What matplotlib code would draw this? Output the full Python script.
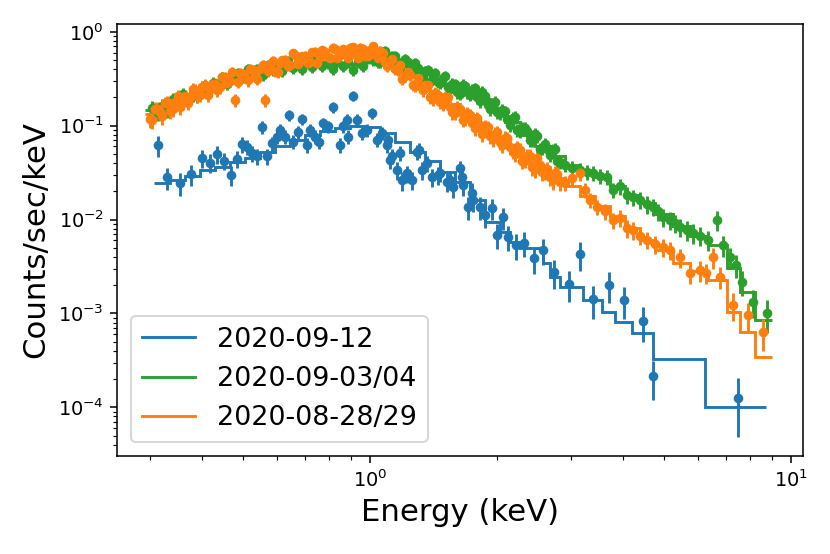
import numpy as np
import matplotlib
matplotlib.use("Agg")
import matplotlib.pyplot as plt

# --- 2020-09-12 (blue) ---
blue_energy = [0.314, 0.330, 0.354, 0.376, 0.399, 0.417, 0.432, 0.449, 0.467, 0.482,
               0.496, 0.510, 0.524, 0.538, 0.553, 0.569, 0.584, 0.600, 0.611, 0.628,
               0.643, 0.657, 0.676, 0.691, 0.707, 0.720, 0.740, 0.758, 0.774, 0.796,
               0.818, 0.849, 0.864, 0.882, 0.888, 0.913, 0.930, 0.956, 0.982, 1.009,
               1.037, 1.066, 1.095, 1.105, 1.116, 1.128, 1.157, 1.178, 1.189, 1.222,
               1.256, 1.291, 1.305, 1.327, 1.363, 1.401, 1.453, 1.467, 1.521, 1.549,
               1.577, 1.636, 1.650, 1.665, 1.712, 1.747, 1.759, 1.826, 1.876, 1.946,
               1.998, 2.065, 2.131, 2.221, 2.323, 2.452, 2.580, 2.735, 2.966, 3.150,
               3.390, 3.700, 4.010, 4.460, 4.700, 7.480]
blue_rate = [0.062, 0.0282, 0.0244, 0.0306, 0.0456, 0.0404, 0.050, 0.0424, 0.030, 0.0445,
             0.0638, 0.0597, 0.0508, 0.047, 0.096, 0.047, 0.065, 0.0763, 0.090, 0.0763,
             0.129, 0.0676, 0.0863, 0.117, 0.062, 0.090, 0.0763, 0.0676, 0.106, 0.098,
             0.157, 0.062, 0.098, 0.115, 0.0763, 0.207, 0.115, 0.083, 0.090, 0.1355,
             0.0705, 0.083, 0.062, 0.0704, 0.0431, 0.0477, 0.0337, 0.0517, 0.0263, 0.031,
             0.0263, 0.0529, 0.0551, 0.0337, 0.0398, 0.0286, 0.0296, 0.0316, 0.0253, 0.0264,
             0.0224, 0.0352, 0.0285, 0.0234, 0.0137, 0.0194, 0.0162, 0.0137, 0.0112, 0.0132,
             0.00686, 0.01057, 0.00657, 0.00537, 0.00568, 0.00387, 0.00474, 0.00279, 0.00206, 0.0043,
             0.00142, 0.00201, 0.00139, 0.00083, 0.000216, 0.000126]
blue_relerr = [0.25, 0.26, 0.27, 0.25, 0.22, 0.22, 0.21, 0.21, 0.24, 0.20,
               0.19, 0.19, 0.19, 0.19, 0.16, 0.19, 0.17, 0.17, 0.16, 0.17,
               0.14, 0.17, 0.16, 0.14, 0.18, 0.16, 0.17, 0.17, 0.15, 0.15,
               0.13, 0.18, 0.15, 0.15, 0.17, 0.12, 0.15, 0.16, 0.16, 0.14,
               0.17, 0.16, 0.18, 0.17, 0.20, 0.19, 0.21, 0.18, 0.23, 0.21,
               0.22, 0.18, 0.18, 0.21, 0.20, 0.22, 0.22, 0.21, 0.23, 0.22,
               0.24, 0.20, 0.22, 0.23, 0.27, 0.25, 0.26, 0.27, 0.28, 0.26,
               0.30, 0.27, 0.30, 0.31, 0.30, 0.32, 0.30, 0.34, 0.36, 0.34,
               0.38, 0.36, 0.38, 0.40, 0.45, 0.62]
blue_model_edges = [0.307, 0.335, 0.364, 0.395, 0.428, 0.465, 0.505, 0.548, 0.595, 0.646,
                    0.701, 0.761, 0.826, 0.897, 0.974, 1.056, 1.147, 1.245, 1.352, 1.467,
                    1.592, 1.728, 1.876, 2.036, 2.151, 2.271, 2.576, 2.677, 2.827, 3.205,
                    3.557, 3.82, 4.19, 4.70, 6.25, 8.72]
blue_model = [0.0245, 0.0264, 0.0291, 0.0337, 0.0363, 0.0412, 0.0453, 0.0525, 0.0608, 0.0704,
              0.0796, 0.0878, 0.0945, 0.0993, 0.0969, 0.0836, 0.0671, 0.0525, 0.0421, 0.0321,
              0.0251, 0.0162, 0.00943, 0.00738, 0.00577, 0.00498, 0.00345, 0.00245, 0.00192, 0.00139,
              0.00104, 0.000812, 0.00062, 0.00033, 0.000101]

# --- 2020-09-03/04 (green) ---
green_energy = [0.304, 0.313, 0.321, 0.330, 0.340, 0.349, 0.359, 0.369, 0.379, 0.389,
                0.400, 0.412, 0.423, 0.434, 0.446, 0.458, 0.471, 0.485, 0.498, 0.512,
                0.526, 0.540, 0.556, 0.571, 0.587, 0.603, 0.619, 0.637, 0.655, 0.673,
                0.691, 0.711, 0.730, 0.750, 0.771, 0.793, 0.815, 0.837, 0.861, 0.885,
                0.909, 0.935, 0.960, 0.987, 1.014, 1.042, 1.071, 1.100, 1.131, 1.163,
                1.194, 1.228, 1.262, 1.298, 1.333, 1.371, 1.408, 1.448, 1.487, 1.529,
                1.570, 1.614, 1.659, 1.704, 1.752, 1.800, 1.850, 1.902, 1.955, 2.008,
                2.064, 2.121, 2.181, 2.240, 2.302, 2.366, 2.432, 2.500, 2.569, 2.640,
                2.714, 2.789,
                2.906, 3.02, 3.153, 3.28, 3.39, 3.518, 3.66, 3.78, 3.925, 4.08,
                4.21, 4.378, 4.55, 4.70, 4.83, 4.97, 5.159, 5.30, 5.449, 5.66,
                5.85, 6.079, 6.35, 6.67, 6.90, 7.161, 7.40, 7.65, 8.12, 8.77]
green_rate = [0.1543, 0.1365, 0.162, 0.147, 0.1925, 0.1745, 0.2176, 0.188, 0.212, 0.207,
              0.258, 0.2285, 0.285, 0.278, 0.330, 0.278, 0.330, 0.364, 0.330, 0.402,
              0.347, 0.402, 0.347, 0.443, 0.392, 0.443, 0.382, 0.489, 0.412, 0.454,
              0.402, 0.489, 0.422, 0.513, 0.432, 0.465, 0.402, 0.489, 0.432, 0.477,
              0.392, 0.477, 0.432, 0.526, 0.501, 0.477, 0.610, 0.501, 0.553, 0.432,
              0.477, 0.477, 0.382, 0.412, 0.330, 0.392, 0.322, 0.292, 0.322, 0.258,
              0.278, 0.2285, 0.271, 0.2285, 0.240, 0.202, 0.2285, 0.166, 0.170, 0.140,
              0.147, 0.1179, 0.1208, 0.090, 0.0945, 0.0878, 0.0704, 0.0777, 0.0579, 0.0565,
              0.0551, 0.0421,
              0.0382, 0.0356, 0.0337, 0.0321, 0.0313, 0.0292, 0.0285, 0.0207, 0.0228, 0.0183,
              0.0174, 0.0162, 0.01466, 0.0137, 0.0122, 0.01066, 0.0099, 0.0092, 0.00834, 0.00775,
              0.0072, 0.00674, 0.00607, 0.0099, 0.00536, 0.00397, 0.00328, 0.00217, 0.001326, 0.00101]
green_relerr = [0.18, 0.17, 0.18, 0.17, 0.17, 0.16, 0.16, 0.16, 0.16, 0.15,
                0.15, 0.15, 0.15, 0.14, 0.14, 0.14, 0.14, 0.14, 0.14, 0.13,
                0.13, 0.13, 0.13, 0.13, 0.13, 0.13, 0.13, 0.13, 0.13, 0.13,
                0.13, 0.13, 0.13, 0.13, 0.13, 0.13, 0.13, 0.13, 0.13, 0.13,
                0.13, 0.13, 0.13, 0.13, 0.13, 0.13, 0.13, 0.13, 0.13, 0.13,
                0.14, 0.14, 0.14, 0.14, 0.14, 0.14, 0.14, 0.14, 0.14, 0.14,
                0.15, 0.15, 0.15, 0.15, 0.15, 0.15, 0.15, 0.15, 0.15, 0.15,
                0.16, 0.16, 0.16, 0.16, 0.16, 0.16, 0.16, 0.16, 0.16, 0.16,
                0.17, 0.17,
                0.17, 0.17, 0.18, 0.18, 0.18, 0.18, 0.19, 0.19, 0.19, 0.20,
                0.20, 0.20, 0.21, 0.21, 0.21, 0.21, 0.22, 0.22, 0.22, 0.23,
                0.23, 0.23, 0.23, 0.23, 0.25, 0.25, 0.27, 0.29, 0.33, 0.38]
# second set of green bins (between the first ones) above 1 keV
green_energy_b = [1.056, 1.085, 1.116, 1.147, 1.178, 1.211, 1.245, 1.280, 1.315, 1.352,
                  1.389, 1.428, 1.467, 1.508, 1.549, 1.592, 1.636, 1.681, 1.728, 1.776,
                  1.825, 1.876, 1.928, 1.981, 2.036, 2.092, 2.151, 2.210, 2.271, 2.334,
                  2.399, 2.466, 2.534, 2.604, 2.677, 2.751, 2.827]
green_rate_b = [0.471, 0.617, 0.483, 0.553, 0.412, 0.507, 0.402, 0.465, 0.342, 0.382,
                0.292, 0.364, 0.285, 0.338, 0.243, 0.275, 0.218, 0.265, 0.212, 0.252,
                0.183, 0.207, 0.1506, 0.179, 0.1349, 0.1416, 0.1017, 0.1238, 0.0878, 0.0945,
                0.0704, 0.0816, 0.0565, 0.0638, 0.0488, 0.0565, 0.0412]
green_relerr_b = [0.13, 0.13, 0.13, 0.13, 0.13, 0.13, 0.13, 0.13, 0.13, 0.13,
                  0.14, 0.14, 0.14, 0.14, 0.14, 0.14, 0.14, 0.14, 0.14, 0.14,
                  0.15, 0.15, 0.15, 0.15, 0.15, 0.15, 0.15, 0.15, 0.15, 0.15,
                  0.16, 0.16, 0.16, 0.16, 0.16, 0.16, 0.16]

# --- 2020-08-28/29 (orange) ---
orange_energy = [0.300, 0.308, 0.317, 0.326, 0.335, 0.344, 0.354, 0.364, 0.374, 0.384,
                 0.395, 0.406, 0.417, 0.428, 0.440, 0.452, 0.465, 0.478, 0.491, 0.505,
                 0.519, 0.533, 0.548, 0.563, 0.579, 0.595, 0.611, 0.628, 0.646, 0.664,
                 0.682, 0.701, 0.720, 0.740, 0.761, 0.782, 0.804, 0.826, 0.849, 0.873,
                 0.897, 0.922, 0.947, 0.974, 1.000, 1.028, 1.056, 1.085, 1.116, 1.147,
                 1.178, 1.211, 1.245, 1.280, 1.315, 1.352, 1.389, 1.428, 1.467, 1.508,
                 1.549, 1.592, 1.636, 1.681, 1.728, 1.776, 1.825, 1.876, 1.928, 1.981,
                 2.036, 2.092, 2.151, 2.210, 2.271, 2.334, 2.399, 2.466, 2.534, 2.604,
                 2.677, 2.751, 2.827,
                 2.906, 3.02, 3.153, 3.24, 3.331, 3.46, 3.62, 3.78, 3.925, 4.08,
                 4.21, 4.378, 4.55, 4.75, 4.97, 5.159, 5.449, 5.755, 6.079, 6.28,
                 6.53, 6.782, 7.28, 7.91, 8.58]
orange_rate = [0.1179, 0.1506, 0.140, 0.1745, 0.1434, 0.179, 0.158, 0.207, 0.202, 0.240,
               0.212, 0.271, 0.246, 0.278, 0.258, 0.330, 0.299, 0.188, 0.364, 0.330,
               0.402, 0.347, 0.402, 0.188, 0.454, 0.382, 0.465, 0.501, 0.443, 0.566,
               0.489, 0.553, 0.477, 0.610, 0.539, 0.610, 0.526, 0.656, 0.566, 0.625,
               0.672, 0.580, 0.672, 0.553, 0.640, 0.580, 0.625, 0.477, 0.489, 0.402,
               0.443, 0.338, 0.347, 0.265, 0.265, 0.271, 0.202, 0.223, 0.179, 0.202,
               0.158, 0.1365, 0.1506, 0.1208, 0.130, 0.0945, 0.1017, 0.0993, 0.0777, 0.0816,
               0.0671, 0.0740, 0.0593, 0.0500, 0.0551, 0.0442, 0.0476, 0.0346, 0.0382, 0.0329,
               0.0284, 0.0313, 0.0251,
               0.0245, 0.0278, 0.0313, 0.0207, 0.0162, 0.0137, 0.0122, 0.0099, 0.0105, 0.00812,
               0.00775, 0.00674, 0.00607, 0.00553, 0.00509, 0.00474, 0.00397, 0.00271, 0.00291, 0.00271,
               0.00397, 0.00247, 0.00123, 0.000964, 0.000635]
orange_relerr = [0.19, 0.18, 0.19, 0.17, 0.18, 0.17, 0.17, 0.16, 0.16, 0.16,
                 0.16, 0.15, 0.15, 0.15, 0.15, 0.14, 0.14, 0.15, 0.14, 0.14,
                 0.14, 0.13, 0.13, 0.16, 0.13, 0.13, 0.13, 0.12, 0.12, 0.13,
                 0.12, 0.13, 0.12, 0.12, 0.12, 0.12, 0.12, 0.12, 0.12, 0.12,
                 0.12, 0.12, 0.12, 0.12, 0.12, 0.12, 0.12, 0.13, 0.13, 0.13,
                 0.13, 0.14, 0.14, 0.14, 0.15, 0.15, 0.15, 0.15, 0.15, 0.16,
                 0.16, 0.16, 0.16, 0.17, 0.17, 0.17, 0.17, 0.17, 0.18, 0.18,
                 0.18, 0.18, 0.18, 0.18, 0.19, 0.19, 0.19, 0.19, 0.19, 0.20,
                 0.20, 0.20, 0.20,
                 0.18, 0.18, 0.17, 0.19, 0.19, 0.19, 0.19, 0.20, 0.20, 0.21,
                 0.21, 0.21, 0.21, 0.22, 0.22, 0.22, 0.23, 0.25, 0.25, 0.25,
                 0.25, 0.27, 0.33, 0.35, 0.38]
# second set of orange bins (between the first ones)
orange_energy_b = [0.304, 0.313, 0.321, 0.330, 0.340, 0.349, 0.359, 0.369, 0.379, 0.389,
                   0.400, 0.412, 0.423, 0.434, 0.446, 0.458, 0.471, 0.485, 0.498, 0.512,
                   0.526, 0.540, 0.556, 0.571, 0.587, 0.603, 0.619, 0.637, 0.655, 0.673,
                   0.691, 0.711, 0.730, 0.750, 0.771, 0.793, 0.815, 0.837, 0.861, 0.885,
                   0.909, 0.935, 0.960, 0.987, 1.014, 1.042, 1.071, 1.100, 1.131, 1.163,
                   1.194, 1.228, 1.262, 1.298, 1.333, 1.371, 1.408, 1.448, 1.487, 1.529,
                   1.570, 1.614, 1.659, 1.704, 1.752, 1.800, 1.850, 1.902, 1.955, 2.008,
                   2.064, 2.121, 2.181, 2.240, 2.302, 2.366, 2.432, 2.500, 2.569, 2.640,
                   2.714, 2.789]
orange_rate_b = [0.1136, 0.1506, 0.1253, 0.1767, 0.1488, 0.207, 0.1767, 0.1745, 0.2429, 0.207,
                 0.258, 0.2098, 0.278, 0.240, 0.330, 0.2813, 0.373, 0.292, 0.351, 0.303,
                 0.392, 0.3105, 0.4376, 0.382, 0.489, 0.373, 0.4948, 0.432, 0.5874, 0.4485,
                 0.5458, 0.4596, 0.6019, 0.465, 0.6323, 0.5326, 0.672, 0.5196, 0.6478, 0.526,
                 0.6805, 0.526, 0.656, 0.5458, 0.6975, 0.526, 0.5874, 0.432, 0.513, 0.392,
                 0.315, 0.373, 0.271, 0.322, 0.2371, 0.268, 0.190, 0.212, 0.1681, 0.202,
                 0.1382, 0.1562, 0.115, 0.1349, 0.1068, 0.1193, 0.0806, 0.0957, 0.0722, 0.0847,
                 0.0623, 0.0731, 0.0538, 0.0586, 0.0421, 0.0470, 0.0363, 0.0447, 0.0321, 0.0342,
                 0.0261, 0.0302]
orange_relerr_b = [0.19, 0.18, 0.18, 0.17, 0.17, 0.17, 0.16, 0.16, 0.16, 0.16,
                   0.15, 0.15, 0.15, 0.15, 0.14, 0.14, 0.14, 0.14, 0.14, 0.14,
                   0.13, 0.13, 0.13, 0.13, 0.13, 0.13, 0.12, 0.12, 0.12, 0.12,
                   0.12, 0.12, 0.12, 0.12, 0.12, 0.12, 0.12, 0.12, 0.12, 0.12,
                   0.12, 0.12, 0.12, 0.12, 0.12, 0.12, 0.13, 0.13, 0.13, 0.13,
                   0.14, 0.14, 0.14, 0.14, 0.14, 0.15, 0.15, 0.15, 0.15, 0.15,
                   0.16, 0.16, 0.16, 0.16, 0.16, 0.17, 0.17, 0.17, 0.17, 0.17,
                   0.18, 0.18, 0.18, 0.18, 0.18, 0.19, 0.19, 0.19, 0.19, 0.19,
                   0.20, 0.20]

# model bins shared by the two bright epochs
model_edges = [0.292, 0.317, 0.344, 0.374, 0.406, 0.440, 0.478, 0.519, 0.563, 0.611,
               0.664, 0.720, 0.782, 0.849, 0.922, 1.000, 1.085, 1.178, 1.280, 1.389,
               1.508, 1.636, 1.776, 1.928, 2.092, 2.271, 2.466, 2.677, 2.906, 3.153,
               3.423, 3.716, 4.035, 4.378, 4.75, 5.245, 5.755, 6.35, 7.05, 7.566,
               8.21, 9.01]
green_model = [0.147, 0.166, 0.197, 0.234, 0.278, 0.315, 0.347, 0.382, 0.402, 0.433,
               0.454, 0.477, 0.466, 0.454, 0.477, 0.526, 0.501, 0.433, 0.364, 0.307,
               0.265, 0.229, 0.1925, 0.147, 0.1095, 0.0796, 0.0609, 0.0477, 0.0382, 0.0329,
               0.0284, 0.0228, 0.0183, 0.01502, 0.01147, 0.00855, 0.00674, 0.00536, 0.00305, 0.001694,
               0.000853]
orange_model = [0.133, 0.1506, 0.1745, 0.207, 0.246, 0.285, 0.322, 0.355, 0.392, 0.443,
                0.489, 0.526, 0.553, 0.580, 0.610, 0.595, 0.501, 0.373, 0.278, 0.218,
                0.170, 0.130, 0.0993, 0.0758, 0.0593, 0.0453, 0.0363, 0.0278, 0.0228, 0.01784,
                0.01396, 0.01092, 0.00814, 0.00607, 0.00474, 0.00345, 0.00284, 0.00227, 0.001037, 0.000635,
                0.000344]

series = [
    ('2020-09-12', 'tab:blue', blue_energy, blue_rate, blue_relerr,
     blue_model_edges, blue_model),
    ('2020-09-03/04', 'tab:green', green_energy + green_energy_b, green_rate + green_rate_b,
     green_relerr + green_relerr_b, model_edges, green_model),
    ('2020-08-28/29', 'tab:orange', orange_energy + orange_energy_b, orange_rate + orange_rate_b,
     orange_relerr + orange_relerr_b, model_edges, orange_model),
]

fig = plt.figure(figsize=(830/138.5, 554/138.5), dpi=138.5)
ax = fig.add_axes([0.1413, 0.1774, 0.8257, 0.7787])

for label, color, e, r, rel, edges, model in series:
    r = np.array(r)
    ax.errorbar(e, r, yerr=r*np.array(rel), fmt='o', color=color, ms=4, elinewidth=1.5)
    ax.stairs(model, edges, baseline=None, color=color, lw=1.5, label=label)

ax.set_xscale('log')
ax.set_yscale('log')
ax.set_xlim(0.251, 10.66)
ax.set_ylim(3.05e-5, 1.2)
ax.set_xlabel('Energy (keV)', fontsize=16)
ax.set_ylabel('Counts/sec/keV', fontsize=16)
ax.legend(loc='lower left', fontsize=14)

fig.savefig('out.png', dpi=138.5)
